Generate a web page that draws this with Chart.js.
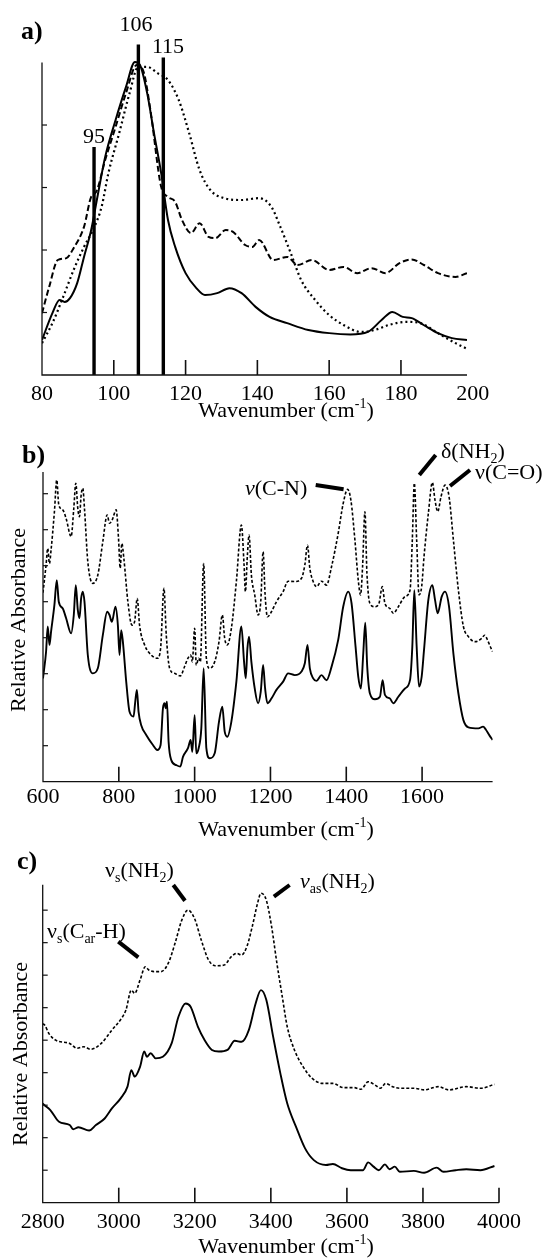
<!DOCTYPE html>
<html lang="en">
<head>
<meta charset="UTF-8">
<title>Spectra a-b-c</title>
<script src="https://cdn.jsdelivr.net/npm/chart.js@4.4.1/dist/chart.umd.min.js"></script>
<style>
  body { margin: 0; background: #fff; }
  #wrap { position: relative; width: 547px; height: 1258px; }
  .panel { position: absolute; left: 0; width: 547px; }
</style>
</head>
<body>
<div id="wrap">
  <div class="panel" style="top:0;height:425px"><canvas id="chartA"></canvas></div>
  <div class="panel" style="top:425px;height:420px"><canvas id="chartB"></canvas></div>
  <div class="panel" style="top:845px;height:413px"><canvas id="chartC"></canvas></div>
</div>
<script>
// ---- panel a: far-IR / THz region ----
const aSolidX = [80, 82.9, 84.9, 86.3, 87.8, 89.8, 91.7, 93.7, 95.6, 97.6, 100.5, 103.4, 105.9, 107.3, 109.3, 111.2, 113.2, 115.1, 117.1, 120, 123, 125.4, 128.8, 132.2, 135.6, 139.5, 143.4, 148.3, 154.2, 160, 165.9, 170.8, 174.6, 177.6, 180.5, 183, 186.3, 190.3, 194.2, 198.4];
const aSolidY = [0.56, 0.99, 1.2, 1.17, 1.23, 1.47, 1.89, 2.32, 2.9, 3.49, 4.08, 4.61, 5.01, 4.96, 4.51, 3.87, 3.23, 2.48, 2.05, 1.63, 1.39, 1.28, 1.31, 1.39, 1.31, 1.09, 0.93, 0.83, 0.72, 0.67, 0.65, 0.69, 0.88, 1.01, 0.93, 0.91, 0.8, 0.67, 0.59, 0.56];
const aDashX = [80, 82, 84.4, 86.8, 88.8, 91.7, 93.7, 95.1, 97.6, 100.5, 103.4, 106.4, 108.3, 110.2, 113.2, 115.1, 117.1, 119, 121.5, 123.9, 126.4, 128.3, 131.2, 133.2, 136.6, 138.6, 140.5, 144.4, 148.3, 151.2, 155.2, 160, 164, 167.8, 171.8, 175.7, 179.6, 183, 186.4, 190.3, 195.2, 198.4];
const aDashY = [0.99, 1.41, 1.84, 1.87, 2.03, 2.37, 2.85, 2.93, 3.44, 3.97, 4.51, 4.96, 4.85, 4.24, 3.01, 2.85, 2.77, 2.48, 2.27, 2.43, 2.21, 2.19, 2.32, 2.29, 2.08, 2.05, 2.16, 1.84, 1.89, 1.76, 1.84, 1.68, 1.73, 1.63, 1.71, 1.63, 1.79, 1.85, 1.76, 1.63, 1.57, 1.63];
const aDotX = [80, 82.9, 85.9, 88.8, 91.7, 94.6, 96.6, 98.5, 101.5, 104.4, 106.8, 109.3, 112.2, 115.1, 118.1, 121, 123.9, 126.9, 130.7, 135.6, 140.5, 143.9, 146.4, 149.3, 152.2, 156.1, 160, 164, 168.8, 172.7, 176.6, 181.5, 185.4, 190.3, 195.2, 198.4];
const aDotY = [0.51, 0.83, 1.25, 1.68, 2.05, 2.37, 2.69, 3.23, 3.87, 4.51, 4.93, 4.93, 4.83, 4.72, 4.4, 3.87, 3.28, 2.96, 2.83, 2.8, 2.83, 2.69, 2.37, 1.95, 1.52, 1.2, 0.96, 0.8, 0.69, 0.72, 0.8, 0.85, 0.83, 0.67, 0.51, 0.42];
const aPeakPos = [94.5, 106.85, 113.8];
const aPeakHeight = [3.65, 5.29, 5.08];
const aPeakLabels = ['95', '106', '115'];
const aTickLabels = [80, 100, 120, 140, 160, 180, 200];

// ---- panel b: fingerprint region ----
const bDashX = [600, 608.1, 612.5, 617, 621.3, 630.1, 636.3, 641.6, 652.2, 661, 674.2, 681.2, 686.5, 691.8, 696.2, 700.6, 705, 709.4, 718.2, 731.4, 744.6, 757.8, 769.3, 775.5, 782.5, 793, 799.2, 803.6, 808, 813.3, 823.9, 834.5, 841.5, 848.6, 854.7, 868, 885.5, 901.4, 910.2, 919, 925.2, 934, 947.2, 962.2, 973.6, 982.4, 989.5, 993.9, 1000, 1004.4, 1010.6, 1015, 1023.8, 1030.9, 1039.7, 1052.9, 1064.3, 1073.1, 1079.3, 1086.3, 1096.9, 1110.1, 1123.3, 1130.4, 1133.9, 1139.2, 1143.6, 1149.7, 1158.5, 1167.4, 1174.4, 1180.6, 1185.9, 1192, 1202.6, 1215.8, 1233.4, 1246.6, 1264.2, 1281.9, 1290.7, 1297.7, 1303.9, 1312.7, 1321.5, 1334.7, 1347.9, 1361.1, 1378.7, 1391.9, 1403.4, 1412.2, 1422.8, 1431.6, 1437.7, 1443, 1449.2, 1454.5, 1462.4, 1475.6, 1486.2, 1495, 1502, 1515.2, 1524, 1537.3, 1554.9, 1568.1, 1574.2, 1579.5, 1585.7, 1591.9, 1598.9, 1605.1, 1616.5, 1627.1, 1634.1, 1641.2, 1650, 1660.5, 1671.1, 1682.6, 1695.8, 1709, 1722.2, 1739.8, 1757.4, 1765, 1772, 1780, 1786];
const bDashY = [5.25, 6.02, 6.48, 6.06, 6.44, 7.5, 8.38, 7.69, 7.55, 7.31, 6.81, 7.59, 8.29, 7.59, 7.36, 7.96, 8.15, 7.59, 6.11, 5.51, 5.74, 6.67, 7.41, 7.18, 7.27, 7.55, 6.76, 5.93, 6.62, 6.2, 5.0, 4.35, 4.44, 5.09, 4.35, 3.8, 3.52, 3.43, 3.7, 5.37, 4.07, 3.15, 3.01, 2.94, 3.2, 3.43, 3.52, 3.33, 4.26, 3.24, 3.43, 3.33, 6.06, 3.43, 3.15, 3.33, 3.89, 4.63, 3.98, 3.8, 4.26, 5.56, 7.13, 6.02, 5.28, 6.3, 6.85, 5.74, 5.19, 4.63, 5.0, 6.39, 5.19, 4.58, 4.72, 5.0, 5.28, 5.57, 5.56, 5.65, 6.02, 6.57, 5.93, 5.56, 5.42, 5.57, 5.46, 5.97, 6.9, 7.73, 8.12, 7.82, 6.71, 5.6, 5.19, 5.97, 7.5, 5.79, 4.95, 4.86, 4.95, 5.42, 4.95, 4.81, 4.68, 4.86, 5.14, 5.32, 6.71, 8.29, 6.71, 5.19, 5.42, 6.25, 7.45, 8.31, 7.82, 7.5, 7.92, 8.24, 7.92, 6.71, 5.32, 4.31, 4.03, 3.89, 3.98, 4.07, 3.95, 3.75, 3.61];
const bSolidX = [600, 608.1, 612.5, 617, 621.3, 630.1, 636.3, 641.6, 652.2, 661, 674.2, 681.2, 686.5, 691.8, 696.2, 700.6, 705, 709.4, 718.2, 731.4, 744.6, 757.8, 769.3, 775.5, 781.6, 791.3, 797.5, 801.9, 806.3, 810.7, 819.5, 828.3, 838.9, 843.3, 847.7, 852.1, 859.1, 872.3, 890, 901.4, 910.2, 916.4, 920.8, 923.4, 927, 931.3, 938.4, 951.6, 962.2, 969.2, 982.4, 989.5, 993.9, 1000, 1004.4, 1010.6, 1017.6, 1023.8, 1030.9, 1039.7, 1052.9, 1064.3, 1073.1, 1079.3, 1086.3, 1096.9, 1110.1, 1123.3, 1130.4, 1134.8, 1139.2, 1143.6, 1149.7, 1158.5, 1167.4, 1174.4, 1180.6, 1185.9, 1192, 1202.6, 1215.8, 1233.4, 1246.6, 1264.2, 1281.9, 1290.7, 1297.7, 1303.9, 1312.7, 1321.5, 1334.7, 1347.9, 1361.1, 1378.7, 1391.9, 1405.1, 1414, 1424.5, 1431.6, 1438.6, 1444.8, 1450.1, 1455.3, 1462.4, 1475.6, 1488.8, 1495.9, 1502, 1515.2, 1524, 1537.3, 1554.9, 1568.1, 1574.2, 1579.5, 1585.7, 1591.9, 1598.9, 1605.1, 1616.5, 1627.1, 1634.1, 1641.2, 1651.8, 1660.5, 1671.1, 1682.6, 1695.8, 1709, 1722.2, 1748.6, 1761, 1768, 1778, 1786];
const bSolidY = [2.87, 3.61, 4.31, 3.8, 4.17, 4.91, 5.6, 5.0, 4.81, 4.54, 4.12, 4.63, 5.46, 4.77, 4.54, 5.09, 5.28, 5.0, 3.52, 3.01, 3.15, 4.07, 4.72, 4.63, 4.44, 4.86, 4.35, 3.52, 4.21, 3.89, 2.78, 1.94, 1.81, 2.22, 2.55, 1.94, 1.57, 1.3, 1.02, 0.88, 1.02, 2.04, 2.18, 2.04, 2.22, 1.11, 0.6, 0.46, 0.42, 0.69, 0.93, 1.16, 0.83, 1.85, 0.79, 0.93, 1.48, 3.15, 0.93, 0.65, 0.79, 1.67, 2.08, 1.39, 1.25, 1.67, 2.78, 4.31, 3.33, 2.87, 3.7, 4.03, 3.33, 2.59, 2.18, 2.5, 3.24, 2.59, 2.18, 2.31, 2.55, 2.78, 3.01, 2.96, 3.06, 3.29, 3.8, 3.15, 2.87, 2.8, 2.96, 2.82, 3.19, 3.94, 4.86, 5.28, 4.95, 3.75, 2.92, 2.59, 3.56, 4.42, 3.19, 2.45, 2.29, 2.36, 2.82, 2.41, 2.31, 2.18, 2.36, 2.59, 2.82, 3.75, 5.32, 3.75, 2.64, 2.92, 3.66, 5.05, 5.46, 5.05, 4.68, 5.14, 5.28, 4.86, 3.56, 2.45, 1.71, 1.51, 1.48, 1.53, 1.45, 1.28, 1.16];
const bTickLabels = [600, 800, 1000, 1200, 1400, 1600];

// ---- panel c: N-H / C-H stretching region ----
const cDashX = [2800, 2805, 2816, 2834, 2871, 2890, 2908, 2926, 2954, 2982, 3010, 3019, 3033, 3042, 3056, 3070, 3079, 3093, 3111, 3130, 3148, 3166, 3182, 3199, 3217, 3236, 3254, 3277, 3296, 3310, 3323, 3337, 3351, 3365, 3374, 3388, 3402, 3416, 3430, 3443, 3462, 3485, 3508, 3536, 3563, 3591, 3619, 3637, 3656, 3674, 3688, 3702, 3720, 3739, 3776, 3803, 3840, 3868, 3914, 3951, 3988];
const cDashY = [5.5, 5.47, 5.21, 5.0, 4.9, 4.75, 4.8, 4.72, 4.9, 5.31, 5.72, 5.93, 6.54, 6.44, 6.85, 7.26, 7.16, 7.11, 7.11, 7.36, 7.98, 8.7, 9.0, 8.75, 8.08, 7.47, 7.29, 7.31, 7.57, 7.67, 7.62, 7.88, 8.49, 9.21, 9.52, 9.31, 8.49, 7.36, 6.34, 5.42, 4.7, 4.18, 3.83, 3.67, 3.67, 3.54, 3.54, 3.49, 3.72, 3.62, 3.52, 3.67, 3.57, 3.52, 3.52, 3.47, 3.57, 3.47, 3.57, 3.52, 3.64];
const cSolidX = [2800, 2805, 2820, 2843, 2871, 2880, 2894, 2922, 2940, 2963, 2982, 3005, 3023, 3033, 3042, 3056, 3067, 3074, 3084, 3097, 3116, 3139, 3157, 3176, 3189, 3208, 3226, 3245, 3263, 3286, 3305, 3323, 3342, 3360, 3374, 3388, 3406, 3425, 3443, 3466, 3490, 3513, 3545, 3563, 3587, 3610, 3628, 3642, 3656, 3670, 3684, 3700, 3712, 3726, 3739, 3776, 3803, 3836, 3854, 3886, 3914, 3951, 3988];
const cSolidY = [3.05, 3.0, 2.85, 2.49, 2.39, 2.26, 2.32, 2.22, 2.39, 2.59, 2.9, 3.21, 3.57, 4.08, 3.88, 4.18, 4.65, 4.49, 4.6, 4.44, 4.49, 4.9, 5.72, 6.13, 6.03, 5.42, 5.0, 4.7, 4.65, 4.7, 4.98, 4.95, 5.31, 6.13, 6.54, 6.24, 5.11, 3.98, 3.06, 2.34, 1.67, 1.31, 1.16, 1.19, 1.06, 1.0, 1.0, 1.0, 1.24, 1.11, 1.0, 1.18, 1.03, 1.11, 0.95, 0.98, 0.92, 1.08, 0.95, 1.0, 1.03, 1.0, 1.13];
const cTickLabels = [2800, 3000, 3200, 3400, 3600, 3800, 4000];

const FONT = '"Liberation Serif", "Times New Roman", serif';

function series(xs, ys, dash, width) {
  return {
    data: xs.map((x, i) => ({ x: x, y: ys[i] })),
    showLine: true,
    borderColor: '#000',
    borderWidth: width,
    borderDash: dash,
    pointRadius: 0,
    cubicInterpolationMode: 'monotone',
    fill: false
  };
}

// draw text made of pieces: ['text', kind] kind = '' | 'i' | 'sub' | 'sup'
function rich(ctx, segs, x, y, size, align) {
  const fontOf = k => (k === 'sub' || k === 'sup' ? Math.round(size * 0.62) + 'px ' : k === 'i' ? 'italic ' + size + 'px ' : size + 'px ') + FONT;
  let w = 0;
  segs.forEach(s => { ctx.font = fontOf(s[1]); w += ctx.measureText(s[0]).width; });
  let cx = align === 'center' ? x - w / 2 : x;
  ctx.textAlign = 'left';
  ctx.textBaseline = 'alphabetic';
  segs.forEach(s => {
    ctx.font = fontOf(s[1]);
    const dy = s[1] === 'sub' ? size * 0.22 : s[1] === 'sup' ? -size * 0.4 : 0;
    ctx.fillText(s[0], cx, y + dy);
    cx += ctx.measureText(s[0]).width;
  });
}

function frame(cfg) {
  return {
    id: 'frame',
    afterDraw(chart) {
      const ctx = chart.ctx, xs = chart.scales.x, ys = chart.scales.y;
      const x0 = xs.getPixelForValue(xs.min), x1 = xs.getPixelForValue(xs.max);
      const yb = ys.getPixelForValue(0), yt = ys.getPixelForValue(cfg.yTop);
      ctx.save();
      ctx.strokeStyle = '#111';
      ctx.lineWidth = 1.3;
      ctx.beginPath();
      ctx.moveTo(x0, yt); ctx.lineTo(x0, yb); ctx.lineTo(x1, yb);
      ctx.stroke();
      ctx.lineWidth = 1.6;
      cfg.xMarks.forEach(v => {
        const p = xs.getPixelForValue(v);
        ctx.beginPath(); ctx.moveTo(p, yb); ctx.lineTo(p, yb - 15); ctx.stroke();
      });
      ctx.lineWidth = 1.2;
      cfg.yMarks.forEach(v => {
        const p = ys.getPixelForValue(v);
        ctx.beginPath(); ctx.moveTo(x0, p); ctx.lineTo(x0 + 5, p); ctx.stroke();
      });
      ctx.fillStyle = '#000';
      ctx.font = '22px ' + FONT;
      ctx.textAlign = 'center';
      ctx.textBaseline = 'alphabetic';
      cfg.xLabels.forEach(v => ctx.fillText(String(v), xs.getPixelForValue(v), cfg.labelY));
      rich(ctx, [['Wavenumber (cm', ''], ['-1', 'sup'], [')', '']], 286, cfg.titleY, 22, 'center');
      if (cfg.yTitle) {
        ctx.save();
        ctx.translate(cfg.yTitle[0], cfg.yTitle[1]);
        ctx.rotate(-Math.PI / 2);
        ctx.font = '22px ' + FONT;
        ctx.textAlign = 'center';
        ctx.textBaseline = 'middle';
        ctx.fillText('Relative Absorbance', 0, 0);
        ctx.restore();
      }
      ctx.font = 'bold 26px ' + FONT;
      ctx.textAlign = 'left';
      ctx.fillText(cfg.tag[0], cfg.tag[1], cfg.tag[2]);
      (cfg.notes || []).forEach(n => rich(ctx, n.segs, n.x, n.y, 22, n.align || 'left'));
      ctx.lineWidth = 4;
      ctx.strokeStyle = '#000';
      (cfg.leaders || []).forEach(l => {
        ctx.beginPath(); ctx.moveTo(l[0], l[1]); ctx.lineTo(l[2], l[3]); ctx.stroke();
      });
      ctx.restore();
    }
  };
}

function makeChart(id, datasets, xr, yr, pad, cfg) {
  return new Chart(document.getElementById(id), {
    type: 'scatter',
    data: { datasets: datasets },
    options: {
      responsive: true,
      maintainAspectRatio: false,
      animation: false,
      layout: { padding: pad },
      scales: {
        x: { type: 'linear', min: xr[0], max: xr[1], display: false },
        y: { type: 'linear', min: yr[0], max: yr[1], display: false }
      },
      plugins: { legend: { display: false }, tooltip: { enabled: false } }
    },
    plugins: [frame(cfg)]
  });
}

// panel a
const aSets = [
  series(aSolidX, aSolidY, [], 2),
  series(aDashX, aDashY, [6, 3], 2),
  series(aDotX, aDotY, [2, 3], 2.2)
];
aPeakPos.forEach((p, i) => {
  aSets.push({
    data: [{ x: p, y: 0 }, { x: p, y: aPeakHeight[i] }],
    showLine: true, borderColor: '#000', borderWidth: 3.4, pointRadius: 0, fill: false
  });
});
makeChart('chartA', aSets, [80, 198.4], [0, 5.45],
  { left: 42, right: 80, top: 34.4, bottom: 50 },
  {
    yTop: 5, xMarks: [100, 120, 140, 160, 180], yMarks: [1, 2, 3, 4],
    xLabels: aTickLabels, labelY: 400, titleY: 417, tag: ['a)', 21, 39],
    notes: [
      { segs: [[aPeakLabels[0], '']], x: 94, y: 143, align: 'center' },
      { segs: [[aPeakLabels[1], '']], x: 136, y: 31, align: 'center' },
      { segs: [[aPeakLabels[2], '']], x: 168, y: 53, align: 'center' }
    ]
  });

// panel b
makeChart('chartB', [
  series(bDashX, bDashY, [3, 2], 1.6),
  series(bSolidX, bSolidY, [], 1.9)
], [600, 1786], [0, 8.6],
  { left: 43, right: 54.4, top: 47.1, bottom: 63.3 },
  {
    yTop: 8.6, xMarks: [800, 1000, 1200, 1400, 1600], yMarks: [1, 2, 3, 4, 5, 6, 7, 8],
    xLabels: bTickLabels, labelY: 378, titleY: 411, tag: ['b)', 22, 38], yTitle: [19, 195],
    notes: [
      { segs: [['ν', 'i'], ['(C-N)', '']], x: 245, y: 70 },
      { segs: [['δ(NH', ''], ['2', 'sub'], [')', '']], x: 441, y: 33 },
      { segs: [['ν(C=O)', '']], x: 475, y: 54 }
    ],
    leaders: [[315.7, 60, 343.6, 64.3], [435.7, 30, 419.3, 50], [470, 45, 450, 61]]
  });

// panel c
makeChart('chartC', [
  series(cDashX, cDashY, [3, 2], 1.6),
  series(cSolidX, cSolidY, [], 1.9)
], [2800, 4000], [0, 9.78],
  { left: 42.7, right: 48, top: 39.8, bottom: 55.3 },
  {
    yTop: 9.78, xMarks: [3000, 3200, 3400, 3600, 3800, 4000], yMarks: [1, 2, 3, 4, 5, 6, 7, 8, 9],
    xLabels: cTickLabels, labelY: 383, titleY: 408, tag: ['c)', 17, 24], yTitle: [21, 209],
    notes: [
      { segs: [['ν', ''], ['s', 'sub'], ['(NH', ''], ['2', 'sub'], [')', '']], x: 105, y: 32 },
      { segs: [['ν', 'i'], ['as', 'sub'], ['(NH', ''], ['2', 'sub'], [')', '']], x: 300, y: 43 },
      { segs: [['ν', ''], ['s', 'sub'], ['(C', ''], ['ar', 'sub'], ['-H)', '']], x: 47, y: 93 }
    ],
    leaders: [[173.3, 40, 185, 55.7], [118.3, 96.7, 138.3, 112.3], [273.9, 51.7, 289.6, 40]]
  });
</script>
</body>
</html>
